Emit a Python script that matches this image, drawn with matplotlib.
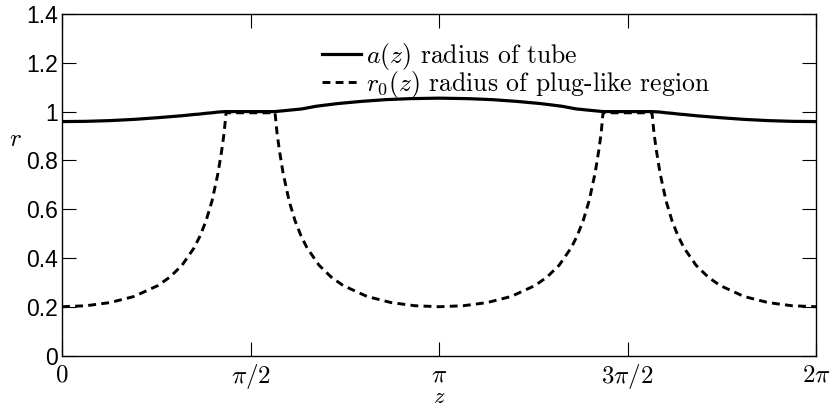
import matplotlib
matplotlib.use('Agg')
import matplotlib.pyplot as plt

plt.rcParams['font.family'] = ['Liberation Sans', 'DejaVu Sans']
plt.rcParams['mathtext.fontset'] = 'cm'

# radius of tube a(z)
z_tube = [0.0, 0.2, 0.4, 0.6, 0.8, 0.9, 1.0, 1.1, 1.15, 1.2, 1.25, 1.3, 1.33, 1.367,
          1.775, 1.9, 2.0, 2.12, 2.3, 2.5, 2.7, 2.9, 3.142,
          3.383, 3.583, 3.783, 3.983, 4.163, 4.283, 4.383, 4.508,
          4.916, 4.953, 4.983, 5.033, 5.083, 5.133, 5.183, 5.283, 5.383, 5.483, 5.683, 5.883, 6.083, 6.283]
a_tube = [0.959, 0.960, 0.963, 0.968, 0.975, 0.979, 0.983, 0.988, 0.990, 0.993, 0.995, 0.998, 0.999, 1.0,
          1.0, 1.006, 1.011, 1.022, 1.033, 1.042, 1.049, 1.053, 1.055,
          1.053, 1.049, 1.042, 1.033, 1.022, 1.011, 1.006, 1.0,
          1.0, 0.999, 0.998, 0.995, 0.993, 0.990, 0.988, 0.983, 0.979, 0.975, 0.968, 0.963, 0.960, 0.959]

# radius of plug-like region r0(z)
z_plug = [0.0, 0.2, 0.4, 0.6, 0.8, 0.9, 1.0, 1.1, 1.15, 1.2, 1.25, 1.3, 1.33, 1.35, 1.367,
          1.775, 1.792, 1.812, 1.842, 1.892, 1.942, 1.992, 2.042, 2.142, 2.242, 2.342, 2.542, 2.742, 2.942, 3.142,
          3.342, 3.542, 3.742, 3.942, 4.042, 4.142, 4.242, 4.292, 4.342, 4.392, 4.442, 4.472, 4.492, 4.508,
          4.916, 4.933, 4.953, 4.983, 5.033, 5.083, 5.133, 5.183, 5.283, 5.383, 5.483, 5.683, 5.883, 6.083, 6.283]
r0_plug = [0.200, 0.204, 0.217, 0.242, 0.287, 0.322, 0.370, 0.441, 0.490, 0.552, 0.634, 0.748, 0.839, 0.910, 0.995,
           0.995, 0.910, 0.839, 0.748, 0.634, 0.552, 0.490, 0.441, 0.370, 0.322, 0.287, 0.242, 0.217, 0.204, 0.200,
           0.204, 0.217, 0.242, 0.287, 0.322, 0.370, 0.441, 0.490, 0.552, 0.634, 0.748, 0.839, 0.910, 0.995,
           0.995, 0.910, 0.839, 0.748, 0.634, 0.552, 0.490, 0.441, 0.370, 0.322, 0.287, 0.242, 0.217, 0.204, 0.200]

xticks = [0, 1.5707963, 3.1415927, 4.712389, 6.2831853]
xtick_labels = [r'$0$', r'$\pi/2$', r'$\pi$', r'$3\pi/2$', r'$2\pi$']
yticks = [0, 0.2, 0.4, 0.6, 0.8, 1.0, 1.2, 1.4]
ytick_labels = ['0', '0.2', '0.4', '0.6', '0.8', '1', '1.2', '1.4']

fig = plt.figure(figsize=(8.37, 4.07), dpi=100)
ax = fig.add_axes([0.0741, 0.1265, 0.9009, 0.8391])

ax.plot(z_plug, r0_plug, color='black', lw=2.1, dashes=(2.7, 1.8),
        label=r'$r_0(z)$ radius of plug-like region')
ax.plot(z_tube, a_tube, color='black', lw=2.3, label=r'$a(z)$ radius of tube')

ax.set_xlim(0, 6.2831853)
ax.set_ylim(0, 1.4)
ax.set_xticks(xticks)
ax.set_xticklabels(xtick_labels, fontsize=18)
ax.set_yticks(yticks)
ax.set_yticklabels(ytick_labels, fontsize=16.5)
ax.tick_params(direction='in', length=10, width=0.8, top=True, right=True)
ax.tick_params(axis='x', pad=5)
ax.tick_params(axis='y', pad=3)
for s in ax.spines.values():
    s.set_linewidth(1.0)

ax.set_xlabel(r'$z$', fontsize=16)
ax.xaxis.set_label_coords(0.5, -0.092)
ax.set_ylabel(r'$r$', fontsize=18, rotation=0, va='center', ha='center')
ax.yaxis.set_label_coords(-0.062, 0.635)

h, l = ax.get_legend_handles_labels()
ax.legend(h[::-1], l[::-1], loc='upper left', bbox_to_anchor=(0.345, 0.922),
          frameon=False, prop={'family': 'cmr10', 'size': 18.5},
          handlelength=1.5, handletextpad=0.2, labelspacing=-0.1,
          borderpad=0, borderaxespad=0)

fig.savefig('out.png', dpi=100)
